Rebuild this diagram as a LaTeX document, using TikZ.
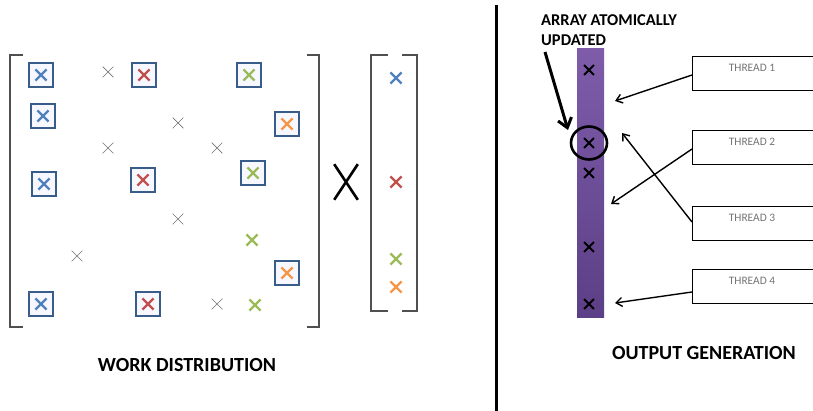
\documentclass[tikz,border=0pt]{standalone}
\usepackage{fontspec}
\setmainfont{Carlito}
\usetikzlibrary{shapes.misc,shapes.geometric,arrows.meta,shadows}
\definecolor{xblue}{HTML}{4F81BD}
\definecolor{xred}{HTML}{C0504D}
\definecolor{xgreen}{HTML}{9BBB59}
\definecolor{xorange}{HTML}{F79646}
\definecolor{boxblue}{HTML}{385D8A}
\definecolor{brgray}{HTML}{505050}
\definecolor{bartop}{HTML}{7E5CAA}
\definecolor{barbot}{HTML}{5C3F86}
\tikzset{
  cx/.style={cross out,draw=#1,line width=2.2pt,minimum size=9pt,inner sep=0pt},
  gx/.style={cross out,draw=gray!90!black,line width=0.7pt,minimum size=10pt,inner sep=0pt},
  bx/.style={rectangle,draw=boxblue,line width=2pt,fill=blue!3!white,minimum size=24pt,inner sep=0pt,
    drop shadow={shadow xshift=1pt,shadow yshift=1pt,opacity=0.25}},
  bk/.style={cross out,draw=black,line width=1.8pt,minimum size=8pt,inner sep=0pt},
  brk/.style={draw=brgray,line width=1.2pt},
  thr/.style={rectangle,draw=black,line width=1.4pt,minimum width=125pt,minimum height=34pt,anchor=north west,inner sep=0pt},
  thrtxt/.style={font=\fontsize{11.4}{13}\selectfont,text=gray!90!black,anchor=north},
  tarrow/.style={draw=black,line width=1.4pt,-{Straight Barb[length=6pt,width=9pt,line width=1.4pt]}},
  lab/.style={font=\bfseries\fontsize{20}{22}\selectfont}
}
\begin{document}
\begin{tikzpicture}[x=1pt,y=-1pt]
\useasboundingbox (0,0) rectangle (813,411);
\clip (0,0) rectangle (813,411);
% left matrix brackets
\draw[brk] (23,55) -- (10,55) -- (10,327) -- (23,327);
\draw[brk] (307,55) -- (319,55) -- (319,327) -- (307,327);
% boxed crosses
\foreach \p/\c [count=\i] in {{(41,75)}/xblue,{(43,116)}/xblue,{(44,184)}/xblue,{(41,304)}/xblue,
  {(144,75)}/xred,{(143,180)}/xred,{(148,304)}/xred,
  {(249,75)}/xgreen,{(253,173)}/xgreen,
  {(287,124)}/xorange,{(287,273)}/xorange}{
  \node[bx] (b\i) at \p {};
  \node[cx=\c] (bc\i) at \p {};
}
% unboxed green
\node[cx=xgreen] (g1) at (252,240) {};
\node[cx=xgreen] (g2) at (255,305) {};
% gray crosses
\foreach \p [count=\i] in {{(108,72)},{(178,123)},{(108,148)},{(217,148)},{(178,219)},{(77,256)},{(217,304)}}{
  \node[gx] (z\i) at \p {};
}
% big X
\node[cross out,draw=black,line width=2.6pt,minimum width=21pt,minimum height=33pt,inner sep=0pt] (bigx) at (346,182) {};
% vector bracket
\draw[brk] (388,55) -- (371,55) -- (371,311) -- (388,311);
\draw[brk] (402,55) -- (417,55) -- (417,311) -- (402,311);
\node[cx=xblue] (v1) at (396,78) {};
\node[cx=xred] (v2) at (396,182) {};
\node[cx=xgreen] (v3) at (396,259) {};
\node[cx=xorange] (v4) at (396,287) {};
% divider
\draw[line width=3pt] (496,5) -- (496,411);
% purple bar
\shade[top color=bartop,bottom color=barbot] (577,49) rectangle (604,317);
\node[minimum width=27pt,minimum height=268pt,inner sep=0pt] (bar) at (590.5,183) {};
\foreach \y [count=\i] in {70,143,173,247,304}{
  \node[bk] (a\i) at (589,\y) {};
}
\node[ellipse,draw=black,line width=2.6pt,minimum width=36pt,minimum height=33pt,inner sep=0pt] (circ) at (589,143) {};
% label
\node[font=\bfseries\fontsize{16.5}{20}\selectfont,align=left,anchor=north west,inner sep=0pt] (atom) at (541,14) {ARRAY ATOMICALLY\\UPDATED};
\coordinate (atail) at (545,52);
\coordinate (ahead) at (568,130);
\draw[line width=3pt,-{Straight Barb[length=9pt,width=14pt,line width=3pt]}] (atail) -- (ahead);
% threads
\foreach \y/\t [count=\i] in {56/THREAD 1,130/THREAD 2,206/THREAD 3,269/THREAD 4}{
  \node[thr] (t\i) at (692,\y) {};
  \node[thrtxt] (tt\i) at (752,\y+5) {\t};
}
\coordinate (p1) at (615,101);
\coordinate (p2) at (611,204);
\coordinate (p3) at (622,133);
\coordinate (p4) at (615,303);
\draw[tarrow] (t1.west |- 0,75) -- (p1);
\draw[tarrow] (t2.west |- 0,149) -- (p2);
\draw[tarrow] (t3.west |- 0,222) -- (p3);
\draw[tarrow] (t4.west |- 0,292) -- (p4);
% bottom labels
\node[lab] (wd) at (187,365) {WORK DISTRIBUTION};
\node[lab] (og) at (704,353) {OUTPUT GENERATION};
\end{tikzpicture}
\end{document}
